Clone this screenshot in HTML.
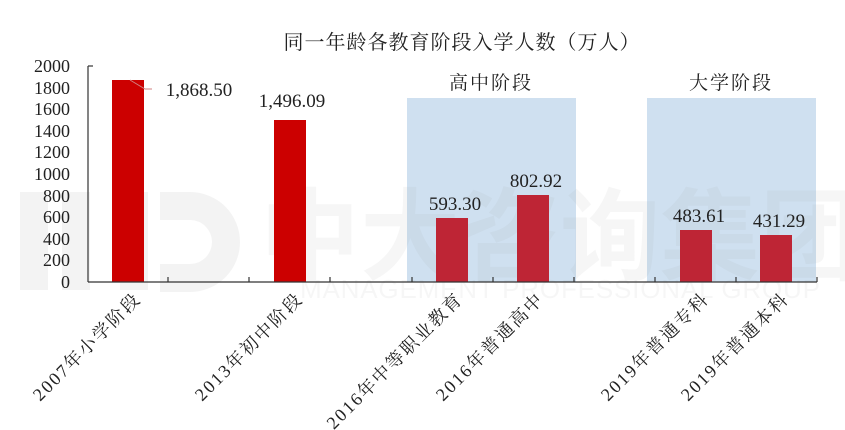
<!DOCTYPE html>
<html><head><meta charset="utf-8"><style>
html,body{margin:0;padding:0;background:#fff;}
svg{display:block;}
text{font-family:"Liberation Serif","Noto Serif CJK SC",serif;}
</style></head><body>
<svg width="845" height="430" viewBox="0 0 845 430" xmlns="http://www.w3.org/2000/svg">
<rect width="845" height="430" fill="#fff"/>
<g fill="#f3f3f3">
<rect x="20" y="192" width="28" height="98"/><rect x="62" y="192" width="28" height="98"/>
<rect x="120" y="192" width="28" height="98"/>
<path d="M160 192 h30 a50 50 0 0 1 0 100 h-30 v-28 h30 a22 22 0 0 0 0 -44 h-30z"/>
</g>
<rect x="407" y="98" width="169" height="184" fill="#cfe0f0"/>
<rect x="647" y="98" width="169" height="184" fill="#cfe0f0"/>
<text x="560" y="272" font-size="100" fill="#999" opacity="0.08" text-anchor="middle" style="font-family:'Noto Sans CJK SC',sans-serif;font-weight:bold">中大咨询集团</text>
<text x="560" y="298" font-size="26" fill="#999" opacity="0.08" text-anchor="middle" style="font-family:'Liberation Sans',sans-serif" textLength="520">MANAGEMENT PROFESSIONAL GROUP</text>
<text x="462" y="49" font-size="20" text-anchor="middle" fill="#222" letter-spacing="1">同一年龄各教育阶段入学人数（万人）</text>
<text x="491" y="89" font-size="19" text-anchor="middle" fill="#222" letter-spacing="2">高中阶段</text>
<text x="731" y="89" font-size="19" text-anchor="middle" fill="#222" letter-spacing="2">大学阶段</text>
<rect x="112" y="80" width="32" height="202" fill="#cc0000"/>
<rect x="274" y="120" width="32" height="162" fill="#cc0000"/>
<rect x="436" y="218" width="32" height="64" fill="#be2535"/>
<rect x="517" y="195" width="32" height="87" fill="#be2535"/>
<rect x="680" y="230" width="32" height="52" fill="#be2535"/>
<rect x="760" y="235" width="32" height="47" fill="#be2535"/>
<g stroke="#333" stroke-width="1.2" fill="none">
<line x1="88" y1="66" x2="88" y2="282"/>
<line x1="88" y1="282" x2="817" y2="282"/>
<line x1="88" y1="66" x2="93" y2="66"/>
<line x1="168" y1="282" x2="168" y2="277"/><line x1="249" y1="282" x2="249" y2="277"/>
<line x1="330" y1="282" x2="330" y2="277"/><line x1="412" y1="282" x2="412" y2="277"/>
<line x1="493" y1="282" x2="493" y2="277"/><line x1="574" y1="282" x2="574" y2="277"/>
<line x1="655" y1="282" x2="655" y2="277"/><line x1="736" y1="282" x2="736" y2="277"/>
<line x1="817" y1="282" x2="817" y2="277"/>
</g>
<path d="M130 80 L145 89 L152 89" stroke="#d08080" stroke-width="1" fill="none"/>
<g font-size="18" fill="#222" text-anchor="end">
<text x="70" y="72">2000</text><text x="70" y="94">1800</text><text x="70" y="115">1600</text>
<text x="70" y="137">1400</text><text x="70" y="158">1200</text><text x="70" y="180">1000</text>
<text x="70" y="202">800</text><text x="70" y="223">600</text><text x="70" y="245">400</text>
<text x="70" y="266">200</text><text x="70" y="288">0</text>
</g>
<g font-size="19" fill="#222" text-anchor="middle">
<text x="199" y="96">1,868.50</text>
<text x="292" y="107">1,496.09</text>
<text x="455" y="210">593.30</text>
<text x="536" y="187">802.92</text>
<text x="699" y="222">483.61</text>
<text x="779" y="227">431.29</text>
</g>
<g font-size="18" fill="#222" text-anchor="end" letter-spacing="2">
<text transform="translate(142,300) rotate(-45)">2007年小学阶段</text>
<text transform="translate(304,300) rotate(-45)">2013年初中阶段</text>
<text transform="translate(464,300) rotate(-45)">2016年中等职业教育</text>
<text transform="translate(545,300) rotate(-45)">2016年普通高中</text>
<text transform="translate(710,300) rotate(-45)">2019年普通专科</text>
<text transform="translate(790,300) rotate(-45)">2019年普通本科</text>
</g>
</svg>
</body></html>
